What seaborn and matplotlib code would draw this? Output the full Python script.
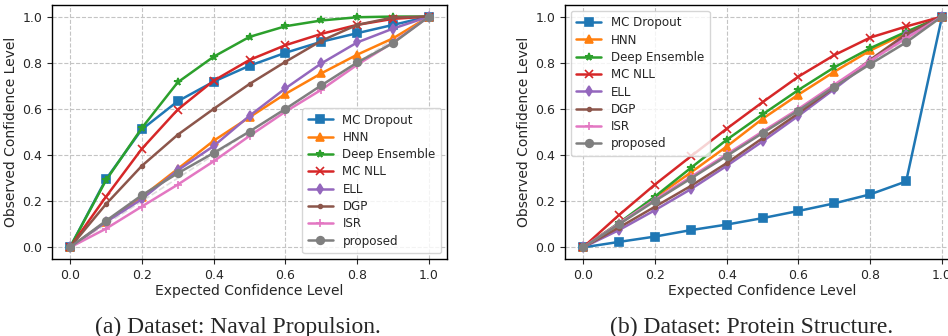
import numpy as np
import pandas as pd
import matplotlib
matplotlib.use("Agg")
import matplotlib.pyplot as plt
import seaborn as sns

expected = [0.0, 0.1, 0.2, 0.3, 0.4, 0.5, 0.6, 0.7, 0.8, 0.9, 1.0]
methods = ["MC Dropout", "HNN", "Deep Ensemble", "MC NLL", "ELL", "DGP", "ISR", "proposed"]
markers = ["s", "^", "*", "x", "d", ".", "+", "o"]

# Panel (a): Naval Propulsion
naval_mc_dropout = [0.0, 0.295, 0.511, 0.633, 0.718, 0.787, 0.843, 0.891, 0.928, 0.964, 1.0]
naval_hnn        = [0.0, 0.111, 0.219, 0.340, 0.462, 0.564, 0.665, 0.754, 0.835, 0.906, 1.0]
naval_deep_ens   = [0.0, 0.290, 0.517, 0.715, 0.826, 0.912, 0.958, 0.983, 0.997, 1.0, 1.0]
naval_mc_nll     = [0.0, 0.219, 0.427, 0.597, 0.722, 0.812, 0.876, 0.925, 0.964, 0.990, 1.0]
naval_ell        = [0.0, 0.110, 0.209, 0.334, 0.439, 0.570, 0.689, 0.797, 0.888, 0.948, 1.0]
naval_dgp        = [0.0, 0.187, 0.353, 0.488, 0.600, 0.708, 0.804, 0.895, 0.964, 0.996, 1.0]
naval_isr        = [0.0, 0.081, 0.177, 0.272, 0.373, 0.483, 0.588, 0.683, 0.791, 0.888, 1.0]
naval_proposed   = [0.0, 0.115, 0.226, 0.321, 0.409, 0.502, 0.600, 0.702, 0.801, 0.885, 1.0]

# Panel (b): Protein Structure
protein_mc_dropout = [0.0, 0.024, 0.047, 0.075, 0.099, 0.127, 0.158, 0.191, 0.230, 0.286, 1.0]
protein_hnn        = [0.0, 0.100, 0.216, 0.324, 0.437, 0.557, 0.662, 0.761, 0.853, 0.928, 1.0]
protein_deep_ens   = [0.0, 0.106, 0.220, 0.344, 0.466, 0.576, 0.682, 0.780, 0.863, 0.934, 1.0]
protein_mc_nll     = [0.0, 0.140, 0.272, 0.394, 0.514, 0.629, 0.740, 0.833, 0.909, 0.957, 1.0]
protein_ell        = [0.0, 0.075, 0.161, 0.252, 0.353, 0.459, 0.570, 0.686, 0.806, 0.919, 1.0]
protein_dgp        = [0.0, 0.086, 0.176, 0.266, 0.365, 0.473, 0.581, 0.694, 0.813, 0.924, 1.0]
protein_isr        = [0.0, 0.104, 0.207, 0.305, 0.403, 0.502, 0.600, 0.705, 0.809, 0.906, 1.0]
protein_proposed   = [0.0, 0.100, 0.201, 0.298, 0.396, 0.495, 0.593, 0.696, 0.794, 0.888, 1.0]

naval = [naval_mc_dropout, naval_hnn, naval_deep_ens, naval_mc_nll,
         naval_ell, naval_dgp, naval_isr, naval_proposed]
protein = [protein_mc_dropout, protein_hnn, protein_deep_ens, protein_mc_nll,
           protein_ell, protein_dgp, protein_isr, protein_proposed]

captions = ["(a) Dataset: Naval Propulsion.", "(b) Dataset: Protein Structure."]
xlabel = "Expected Confidence Level"
ylabel = "Observed Confidence Level"

sns.set_style("ticks")
plt.rcParams["font.family"] = ["DejaVu Sans"]

fig = plt.figure(figsize=(9.48, 3.36), dpi=100)
ax_a = fig.add_axes([52/948, 77/336, 395/948, 254/336])
ax_b = fig.add_axes([565/948, 77/336, 395/948, 254/336])

palette = sns.color_palette("tab10", 8)
legend_locs = ["lower right", "upper left"]

for ax, series, loc in zip([ax_a, ax_b], [naval, protein], legend_locs):
    ax.plot([0, 1], [0, 1], ls="--", color="#dedede", lw=1.2, zorder=1)
    for m, mk, col, vals in zip(methods, markers, palette, series):
        df = pd.DataFrame({"Expected": expected, "Observed": vals})
        sns.lineplot(data=df, x="Expected", y="Observed", color=col, marker=mk,
                     markeredgecolor=col, markersize=5.5, markeredgewidth=1.2,
                     lw=1.8, label=m, ax=ax, zorder=3)
    ax.set_xlim(-0.05, 1.05)
    ax.set_ylim(-0.05, 1.05)
    ax.set_xticks([0, 0.2, 0.4, 0.6, 0.8, 1.0])
    ax.set_yticks([0, 0.2, 0.4, 0.6, 0.8, 1.0])
    ax.xaxis.set_major_formatter(matplotlib.ticker.FormatStrFormatter("%.1f"))
    ax.yaxis.set_major_formatter(matplotlib.ticker.FormatStrFormatter("%.1f"))
    ax.grid(True, ls="--", color="#c4c4c4", lw=0.8)
    ax.set_axisbelow(True)
    ax.tick_params(labelsize=9, length=3.5, width=0.8, direction="out")
    ax.set_xlabel(xlabel, fontsize=10, labelpad=2)
    ax.set_ylabel(ylabel, fontsize=10, labelpad=3)
    for s in ax.spines.values():
        s.set_linewidth(1.0)
        s.set_color("black")
    leg = ax.legend(loc=loc, fontsize=8.6, frameon=True, framealpha=0.8,
                    edgecolor="#cccccc", borderpad=0.45, labelspacing=0.36,
                    handlelength=2.1)

fig.text(238/948, 1 - 327/336, captions[0], ha="center", va="center",
         fontsize=17, family="Liberation Serif")
fig.text(752/948, 1 - 327/336, captions[1], ha="center", va="center",
         fontsize=17, family="Liberation Serif")

fig.savefig("out.png", dpi=100)
